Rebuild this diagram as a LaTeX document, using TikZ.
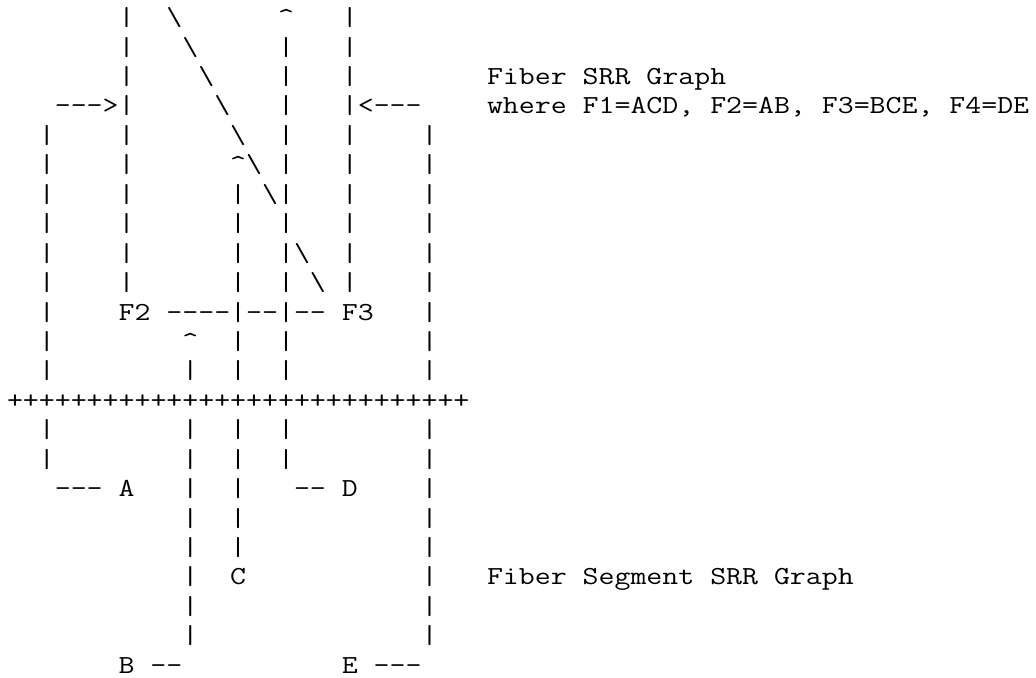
\documentclass[tikz,border=0pt]{standalone}
\usepackage{graphicx}

\newcommand{\bsl}{\textbackslash}
\newcommand{\crt}{\textasciicircum}
\newcommand{\rowtext}[1]{\scalebox{1.1909}[1]{#1}}

\begin{document}
\begin{tikzpicture}[
    x=8pt, y=14.715pt,
    asciirow/.style={
        anchor=base west,
        inner sep=0pt,
        outer sep=0pt,
        font=\ttfamily\fontsize{13}{13}\selectfont
    },
    caption/.style={
        asciirow
    }
]
\useasboundingbox (0,0) rectangle (64.75,-23.004);

% upper half: fiber SRR graph
\node[asciirow] (row0) at (0.4375,-0.873) {\rowtext{~~~~~~~|~~\bsl~~~~~~\crt~~~|}};
\node[asciirow] (row1) at (0.4375,-1.873) {\rowtext{~~~~~~~|~~~\bsl~~~~~|~~~|}};
\node[asciirow] (row2) at (0.4375,-2.873) {\rowtext{~~~~~~~|~~~~\bsl~~~~|~~~|}};
\node[asciirow] (row3) at (0.4375,-3.873) {\rowtext{~~~-{}-{}->|~~~~~\bsl~~~|~~~|<-{}-{}-}};
\node[asciirow] (row4) at (0.4375,-4.873) {\rowtext{~~|~~~~|~~~~~~\bsl~~|~~~|~~~~|}};
\node[asciirow] (row5) at (0.4375,-5.873) {\rowtext{~~|~~~~|~~~~~~\crt\bsl~|~~~|~~~~|}};
\node[asciirow] (row6) at (0.4375,-6.873) {\rowtext{~~|~~~~|~~~~~~|~\bsl|~~~|~~~~|}};
\node[asciirow] (row7) at (0.4375,-7.873) {\rowtext{~~|~~~~|~~~~~~|~~|~~~|~~~~|}};
\node[asciirow] (row8) at (0.4375,-8.873) {\rowtext{~~|~~~~|~~~~~~|~~|\bsl~~|~~~~|}};
\node[asciirow] (row9) at (0.4375,-9.873) {\rowtext{~~|~~~~|~~~~~~|~~|~\bsl~|~~~~|}};
\node[asciirow] (row10) at (0.4375,-10.873) {\rowtext{~~|~~~~F2~-{}-{}-{}-|-{}-|-{}-~F3~~~|}};
\node[asciirow] (row11) at (0.4375,-11.873) {\rowtext{~~|~~~~~~~~\crt~~|~~|~~~~~~~~|}};
\node[asciirow] (row12) at (0.4375,-12.873) {\rowtext{~~|~~~~~~~~|~~|~~|~~~~~~~~|}};

% separator
\node[asciirow] (row13) at (0.4375,-13.873) {\rowtext{+++++++++++++++++++++++++++++}};

% lower half: fiber segment SRR graph
\node[asciirow] (row14) at (0.4375,-14.873) {\rowtext{~~|~~~~~~~~|~~|~~|~~~~~~~~|}};
\node[asciirow] (row15) at (0.4375,-15.873) {\rowtext{~~|~~~~~~~~|~~|~~|~~~~~~~~|}};
\node[asciirow] (row16) at (0.4375,-16.873) {\rowtext{~~~-{}-{}-~A~~~|~~|~~~-{}-~D~~~~|}};
\node[asciirow] (row17) at (0.4375,-17.873) {\rowtext{~~~~~~~~~~~|~~|~~~~~~~~~~~|}};
\node[asciirow] (row18) at (0.4375,-18.873) {\rowtext{~~~~~~~~~~~|~~|~~~~~~~~~~~|}};
\node[asciirow] (row19) at (0.4375,-19.873) {\rowtext{~~~~~~~~~~~|~~C~~~~~~~~~~~|}};
\node[asciirow] (row20) at (0.4375,-20.873) {\rowtext{~~~~~~~~~~~|~~~~~~~~~~~~~~|}};
\node[asciirow] (row21) at (0.4375,-21.873) {\rowtext{~~~~~~~~~~~|~~~~~~~~~~~~~~|}};
\node[asciirow] (row22) at (0.4375,-22.873) {\rowtext{~~~~~~~B~-{}-~~~~~~~~~~E~-{}-{}-}};

% captions
\node[caption] (fibersrr) at (30.4375,-2.873) {\rowtext{Fiber SRR Graph}};
\node[caption] (where) at (30.4375,-3.873) {\rowtext{where F1=ACD, F2=AB, F3=BCE, F4=DE}};
\node[caption] (segsrr) at (30.4375,-19.873) {\rowtext{Fiber Segment SRR Graph}};
\end{tikzpicture}
\end{document}
